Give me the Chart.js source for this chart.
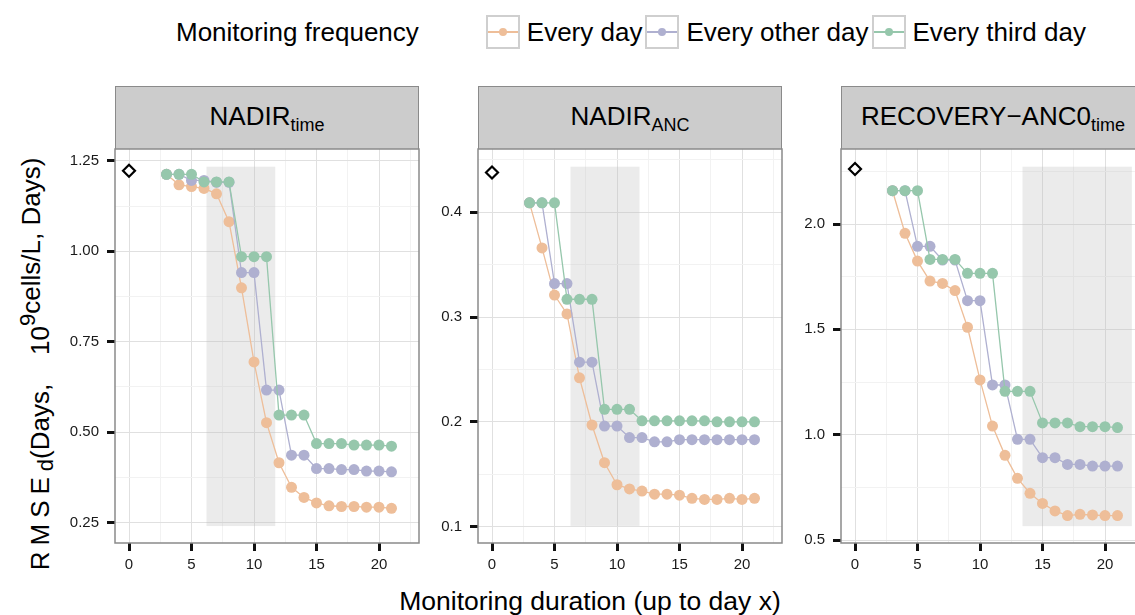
<!DOCTYPE html>
<html>
<head>
<meta charset="utf-8">
<script src="https://cdn.jsdelivr.net/npm/chart.js@4"></script>
<style>
  body { margin: 0; width: 1135px; height: 615px; overflow: hidden; background: #fff;
         font-family: "Liberation Sans", Arial, sans-serif; position: relative; color: #000; }
  canvas { position: absolute; }
  .strip { position: absolute; top: 86px; height: 63px; box-sizing: border-box;
           background: #cccccc; border: 1.5px solid #8a8a8a; border-bottom: none;
           font-size: 26px; display: flex; align-items: center; justify-content: center; }
  .strip sub { font-size: 18px; vertical-align: -6px; }
  .legend { position: absolute; top: 14px; left: 176px; height: 36px; display: flex; align-items: center;
            font-size: 26px; white-space: nowrap; }
  .key { width: 34px; height: 34px; box-sizing: border-box; border: 2px solid #cfcfcf; position: relative; margin-right: 7px; }
  .key .ln { position: absolute; left: 0; right: 0; top: 14px; height: 1.5px; }
  .key .pt { position: absolute; left: 11px; top: 11px; width: 8px; height: 8px; border-radius: 50%; }
  .xtitle { position: absolute; top: 586px; left: 0; width: 1180px; text-align: center; font-size: 26.5px; }
  .ytitle { position: absolute; left: 37px; top: 364px; transform: translate(-50%, -50%) rotate(-90deg);
            font-size: 26px; white-space: nowrap; }
</style>
</head>
<body>
<div class="legend" id="legend"><span style="margin-right:67px">Monitoring frequency</span></div>
<div class="ytitle"><span style="letter-spacing:6px">RMSE</span><sub style="font-size:22px;vertical-align:-4px">d</sub>(Days,&nbsp;&nbsp;&nbsp; 10<sup style="font-size:22px;vertical-align:14px">9</sup><span style="position:relative;top:-9px">cells/L, Days)</span></div>
<div class="xtitle">Monitoring duration (up to day x)</div>

<script>
const days = [3, 4, 5, 6, 7, 8, 9, 10, 11, 12, 13, 14, 15, 16, 17, 18, 19, 20, 21];
const freqLabels = ['Every day', 'Every other day', 'Every third day'];
const freqColors = ['#EEBE99', '#AFB0D0', '#96C7AC'];

// NADIR time
const nadirTimeEvery = [1.213, 1.184, 1.179, 1.174, 1.159, 1.082, 0.899, 0.694, 0.526, 0.415, 0.347, 0.319, 0.304, 0.296, 0.294, 0.294, 0.292, 0.292, 0.289];
const nadirTimeOther = [1.213, 1.213, 1.196, 1.196, 1.191, 1.191, 0.941, 0.941, 0.616, 0.616, 0.436, 0.436, 0.399, 0.399, 0.396, 0.396, 0.392, 0.392, 0.390];
const nadirTimeThird = [1.213, 1.213, 1.213, 1.192, 1.192, 1.192, 0.985, 0.985, 0.985, 0.547, 0.547, 0.547, 0.468, 0.468, 0.468, 0.464, 0.464, 0.464, 0.461];
// NADIR ANC
const nadirAncEvery = [0.409, 0.366, 0.321, 0.303, 0.242, 0.197, 0.161, 0.140, 0.136, 0.134, 0.131, 0.131, 0.130, 0.127, 0.126, 0.126, 0.127, 0.126, 0.127];
const nadirAncOther = [0.409, 0.409, 0.332, 0.332, 0.257, 0.257, 0.196, 0.196, 0.185, 0.185, 0.181, 0.181, 0.183, 0.183, 0.183, 0.183, 0.183, 0.183, 0.183];
const nadirAncThird = [0.409, 0.409, 0.409, 0.317, 0.317, 0.317, 0.212, 0.212, 0.212, 0.201, 0.201, 0.201, 0.201, 0.201, 0.201, 0.200, 0.200, 0.200, 0.200];
// RECOVERY-ANC0 time
const recoveryEvery = [2.158, 1.956, 1.824, 1.729, 1.718, 1.684, 1.510, 1.260, 1.041, 0.902, 0.793, 0.722, 0.674, 0.638, 0.616, 0.622, 0.619, 0.616, 0.616];
const recoveryOther = [2.158, 2.158, 1.894, 1.894, 1.829, 1.829, 1.636, 1.636, 1.236, 1.236, 0.978, 0.978, 0.891, 0.891, 0.859, 0.859, 0.851, 0.851, 0.851];
const recoveryThird = [2.158, 2.158, 2.158, 1.832, 1.832, 1.832, 1.766, 1.766, 1.766, 1.206, 1.206, 1.206, 1.056, 1.056, 1.056, 1.038, 1.038, 1.038, 1.034];

// reference value at day 0 (diamond)
const baselineValues = [1.223, 0.438, 2.261];
// shaded windows: [xFrom, xTo, yFrom, yTo]
const shadeWindows = [[6.2, 11.7, 0.24, 1.234], [6.28, 11.8, 0.1007, 0.4435], [13.4, 22.15, 0.566, 2.272]];

const xTicks = [0, 5, 10, 15, 20];
const xMinor = [2.5, 7.5, 12.5, 17.5, 22.5];
const yTicks = [[0.25, 0.5, 0.75, 1.0, 1.25], [0.1, 0.2, 0.3, 0.4], [0.5, 1.0, 1.5, 2.0]];
const yMinor = [[0.375, 0.625, 0.875, 1.125], [0.15, 0.25, 0.35, 0.45], [0.75, 1.25, 1.75, 2.25]];
const yDecimals = [2, 1, 1];
const yRanges = [[0.193, 1.283], [0.0844, 0.4604], [0.486, 2.356]];

const panelTitles = [['NADIR', 'time'], ['NADIR', 'ANC'], ['RECOVERY\u2212ANC0', 'time']];
const panelSeries = [
  [nadirTimeEvery, nadirTimeOther, nadirTimeThird],
  [nadirAncEvery, nadirAncOther, nadirAncThird],
  [recoveryEvery, recoveryOther, recoveryThird]
];

// layout of the facets on the page
const panelLeft = [115, 478, 841];
const panelWidth = 304;
const plotTop = 149, plotBottom = 543;
const AXIS_W = 60, AXIS_H = 40;

const FONT = '"Liberation Sans", Arial, sans-serif';

// legend
const legend = document.getElementById('legend');
freqLabels.forEach((lab, i) => {
  const k = document.createElement('div');
  k.className = 'key';
  k.innerHTML = `<div class="ln" style="background:${freqColors[i]}"></div><div class="pt" style="background:${freqColors[i]}"></div>`;
  legend.appendChild(k);
  const t = document.createElement('span');
  t.textContent = lab;
  t.style.marginRight = '3px';
  legend.appendChild(t);
});

const panelDeco = {
  id: 'panelDeco',
  beforeDatasetsDraw(chart, args, opts) {
    const { ctx, chartArea: a, scales: { x, y } } = chart;
    const s = opts.shade;
    const l = x.getPixelForValue(s[0]), r = x.getPixelForValue(s[1]);
    const t = y.getPixelForValue(s[3]), b = y.getPixelForValue(s[2]);
    ctx.save();
    ctx.beginPath();
    ctx.rect(a.left, a.top, a.width, a.height);
    ctx.clip();
    ctx.fillStyle = 'rgba(190,190,190,0.3)';
    ctx.fillRect(l, t, r - l, b - t);
    ctx.restore();
  },
  afterDraw(chart) {
    const { ctx, chartArea: a } = chart;
    ctx.save();
    ctx.strokeStyle = '#8a8a8a';
    ctx.lineWidth = 1.5;
    ctx.strokeRect(a.left, a.top, a.width, a.height);
    ctx.restore();
  }
};

panelSeries.forEach((series, p) => {
  const strip = document.createElement('div');
  strip.className = 'strip';
  strip.style.left = panelLeft[p] + 'px';
  strip.style.width = panelWidth + 'px';
  strip.innerHTML = `<span>${panelTitles[p][0]}<sub>${panelTitles[p][1]}</sub></span>`;
  document.body.appendChild(strip);

  const cv = document.createElement('canvas');
  const w = AXIS_W + panelWidth + 2;
  let h = (plotBottom - plotTop) + AXIS_H + 10;
  cv.width = w; cv.height = h;
  cv.style.width = w + 'px'; cv.style.height = h + 'px';
  document.body.appendChild(cv);

  const major = yTicks[p];
  const datasets = series.map((vals, i) => ({
    label: freqLabels[i],
    data: days.map((d, j) => ({ x: d, y: vals[j] })),
    showLine: true,
    borderColor: freqColors[i],
    backgroundColor: freqColors[i],
    borderWidth: 1.3,
    pointRadius: 5.5,
    pointBorderWidth: 0,
    order: 3 - i
  }));
  datasets.push({
    label: 'baseline',
    data: [{ x: 0, y: baselineValues[p] }],
    showLine: false,
    pointStyle: 'rectRot',
    pointRadius: 6,
    pointBorderWidth: 2.2,
    borderColor: '#000',
    backgroundColor: '#fff',
    order: 0
  });

  const chart = new Chart(cv, {
    type: 'scatter',
    data: { datasets },
    options: {
      responsive: false,
      maintainAspectRatio: false,
      animation: false,
      events: [],
      layout: { autoPadding: false, padding: { top: 0, right: 2, left: 0, bottom: 0 } },
      plugins: { legend: { display: false }, tooltip: { enabled: false }, panelDeco: { shade: shadeWindows[p] } },
      scales: {
        x: {
          type: 'linear', min: -1.12, max: 23.2,
          afterBuildTicks: s => { s.ticks = xMinor.concat(xTicks).sort((a, b) => a - b).map(v => ({ value: v })); },
          afterFit: s => { s.height = AXIS_H; },
          ticks: { autoSkip: false, maxRotation: 0, padding: 5, color: '#1a1a1a', font: { size: 15, family: FONT },
                   callback: v => xTicks.includes(v) ? String(v) : '' },
          grid: { lineWidth: 1, tickLength: 8, tickWidth: 3,
                  color: c => xTicks.includes(c.tick.value) ? '#e0e0e0' : '#f2f2f2',
                  tickColor: c => xTicks.includes(c.tick.value) ? '#111' : 'rgba(0,0,0,0)' },
          border: { display: false }
        },
        y: {
          type: 'linear', min: yRanges[p][0], max: yRanges[p][1],
          afterBuildTicks: s => { s.ticks = yMinor[p].concat(major).sort((a, b) => a - b).map(v => ({ value: v })); },
          afterFit: s => { s.width = AXIS_W; },
          ticks: { autoSkip: false, padding: 8, color: '#1a1a1a', font: { size: 15, family: FONT },
                   callback: v => major.includes(v) ? v.toFixed(yDecimals[p]) : '' },
          grid: { lineWidth: 1, tickLength: 8, tickWidth: 3,
                  color: c => major.includes(c.tick.value) ? '#e0e0e0' : '#f2f2f2',
                  tickColor: c => major.includes(c.tick.value) ? '#111' : 'rgba(0,0,0,0)' },
          border: { display: false }
        }
      }
    },
    plugins: [panelDeco]
  });

  // grow the canvas until the plot area matches the facet box, then place it
  for (let k = 0; k < 4; k++) {
    const diff = (plotBottom - plotTop) - (chart.chartArea.bottom - chart.chartArea.top);
    if (Math.abs(diff) < 0.5) break;
    h = Math.round(h + diff);
    chart.resize(w, h);
  }
  const a = chart.chartArea;
  cv.style.left = (panelLeft[p] - a.left) + 'px';
  cv.style.top = (plotTop - a.top) + 'px';
});
</script>
</body>
</html>
